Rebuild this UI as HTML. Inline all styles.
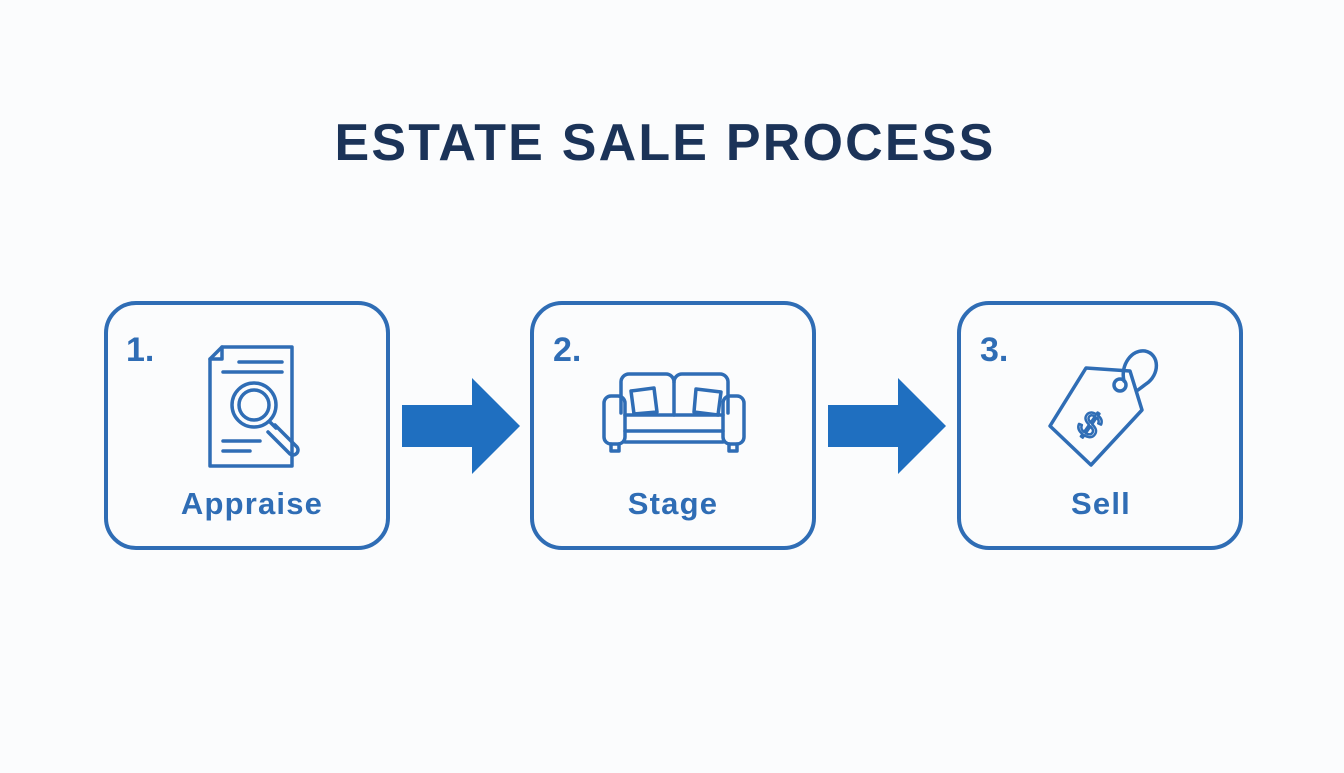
<!DOCTYPE html>
<html><head><meta charset="utf-8"><style>
html,body{margin:0;padding:0;background:#fbfcfd;}
body{width:1344px;height:768px;overflow:hidden;position:relative;font-family:"Liberation Sans",sans-serif;}
</style></head><body>
<svg width="1344" height="768" viewBox="0 0 1344 768" xmlns="http://www.w3.org/2000/svg">
<rect width="1344" height="768" fill="#fbfcfd"/>
<text x="665" y="160" text-anchor="middle" font-family="Liberation Sans, sans-serif" font-weight="bold" font-size="52" fill="#1b3358" letter-spacing="2.2">ESTATE SALE PROCESS</text>
<g fill="none" stroke="#2f6db5" stroke-width="4">
<rect x="106" y="303" width="282" height="245" rx="30"/>
<rect x="532" y="303" width="282" height="245" rx="30"/>
<rect x="959" y="303" width="282" height="245" rx="30"/>
</g>
<g fill="#1f6fc0">
<path d="M402 405H472V378L520 426L472 474V447H402Z"/>
<path d="M828 405H898V378L946 426L898 474V447H828Z"/>
</g>
<g font-family="Liberation Sans, sans-serif" font-weight="bold" fill="#2f6db5">
<text x="126" y="361" font-size="34">1.</text>
<text x="553" y="361" font-size="34">2.</text>
<text x="980" y="361" font-size="34">3.</text>
<text x="252" y="514" font-size="31" letter-spacing="1.2" text-anchor="middle">Appraise</text>
<text x="673" y="514" font-size="31" letter-spacing="1.2" text-anchor="middle">Stage</text>
<text x="1101" y="514" font-size="31" letter-spacing="1.2" text-anchor="middle">Sell</text>
</g>
<g fill="none" stroke="#2f6db5" stroke-width="3.5" stroke-linecap="round" stroke-linejoin="round">
<path d="M222 347H292V466H210V359Z"/>
<path d="M210 359H222V347"/>
<path d="M239 362H282M223 372H282M223 441H260M223 451H250"/>
<circle cx="254" cy="405" r="22"/>
<circle cx="254" cy="405" r="15"/>
<path d="M270 422L276 428"/>
<path d="M275 425L297 447a5 5 0 0 1 -7 7L268 432"/>
<path d="M621 413V382a8 8 0 0 1 8-8H666a8 8 0 0 1 8 8 8 8 0 0 1 8-8H720a8 8 0 0 1 8 8V413"/>
<path d="M674 382V415"/>
<path d="M631 391L654 388L657 412L634 414Z"/>
<path d="M696 389L721 392L718 415L694 412Z"/>
<path d="M625 415H723M625 431H723M625 442H723"/>
<rect x="604" y="396" width="21" height="48" rx="7"/>
<rect x="723" y="396" width="21" height="48" rx="7"/>
<path d="M611 444V451H619V444M729 444V451H737V444"/>
<path d="M1050 426L1086 368L1130 371L1142 410L1091 465Z"/>
<circle cx="1120" cy="385" r="6"/>
<path d="M1124 381C1120 365 1132 349 1145 351C1160 354 1160 375 1146 384L1138 390"/>
<text x="1090" y="437" font-family="Liberation Sans, sans-serif" font-size="36" fill="none" stroke="#2f6db5" stroke-width="2.5" text-anchor="middle" transform="rotate(35 1090 425)">$</text>
</g>
</svg>
</body></html>
